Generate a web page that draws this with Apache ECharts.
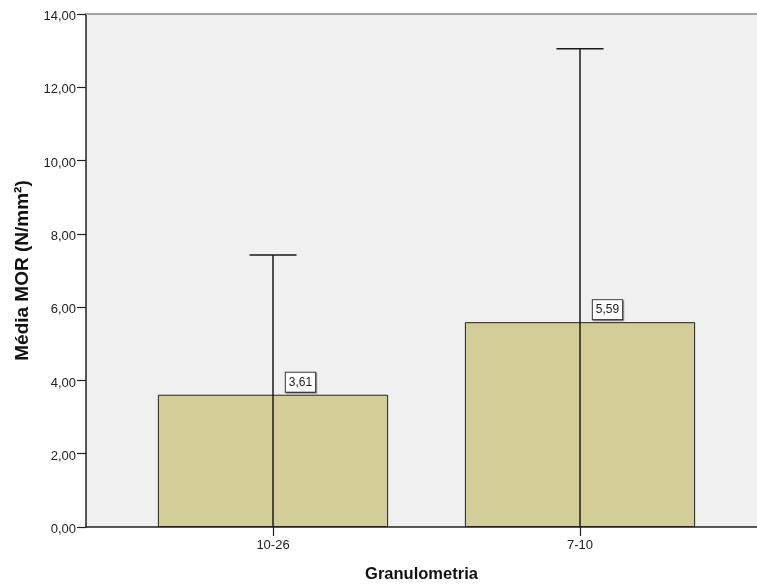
<!DOCTYPE html>
<html>
<head>
<meta charset="utf-8">
<script src="https://cdn.jsdelivr.net/npm/echarts@6/dist/echarts.min.js"></script>
<style>
  html, body { margin: 0; padding: 0; background: #ffffff; }
  #chart { width: 757px; height: 585px; }
</style>
</head>
<body>
<div id="chart"></div>
<script>
// Mean MOR per grain-size class, with error-bar limits
const categories = ['10-26', '7-10'];
const meanMOR = [3.61, 5.59];
const errUpper = [7.42, 13.05];
const errLower = [0, 0];
const yMin = 0, yMax = 14, yStep = 2;

const FONT = '"Liberation Sans", Arial, sans-serif';
const comma = v => v.toFixed(2).replace('.', ',');

const chart = echarts.init(document.getElementById('chart'), null, { renderer: 'canvas' });

const errorData = categories.map((c, i) => [i, errLower[i], errUpper[i]]);

chart.setOption({
  animation: false,
  backgroundColor: '#ffffff',
  grid: [
    // plot frame with the grey panel
    { left: 86, right: 0, top: 14, bottom: 58, outerBoundsMode: 'none', containLabel: false,
      show: true, backgroundColor: '#f0f0f0', borderWidth: 0 },
    // bars
    { left: 119.5, right: 23.5, top: 14, bottom: 58, outerBoundsMode: 'none', containLabel: false }
  ],
  xAxis: [
    {
      gridIndex: 0, type: 'value', min: 0, max: 1, position: 'bottom',
      name: 'Granulometria', nameLocation: 'middle', nameGap: 39,
      nameTextStyle: { fontFamily: FONT, fontSize: 16.5, fontWeight: 'bold', color: '#111' },
      axisLine: { show: true, lineStyle: { color: '#222', width: 1.5 } },
      axisTick: { show: false }, axisLabel: { show: false }, splitLine: { show: false }
    },
    {
      gridIndex: 0, type: 'value', min: 0, max: 1, position: 'top',
      axisLine: { show: true, lineStyle: { color: '#a3a3a3', width: 2 } },
      axisTick: { show: false }, axisLabel: { show: false }, splitLine: { show: false }
    },
    {
      gridIndex: 1, type: 'category', data: categories, position: 'bottom',
      axisLine: { show: false },
      axisTick: { show: true, alignWithLabel: true, length: 9, lineStyle: { color: '#222', width: 1.2 } },
      axisLabel: { margin: 12, fontFamily: FONT, fontSize: 13, color: '#222' },
      splitLine: { show: false }
    }
  ],
  yAxis: [
    {
      gridIndex: 0, type: 'value', min: yMin, max: yMax, interval: yStep,
      name: 'Média MOR (N/mm²)', nameLocation: 'middle', nameGap: 53, nameRotate: 90,
      nameTextStyle: { fontFamily: FONT, fontSize: 19, fontWeight: 'bold', color: '#111' },
      axisLine: { show: true, lineStyle: { color: '#222', width: 1.5 } },
      axisTick: { show: true, length: 9, lineStyle: { color: '#222', width: 1.2 } },
      axisLabel: { margin: 10, fontFamily: FONT, fontSize: 13, color: '#222', formatter: comma,
                   verticalAlign: 'top', lineHeight: 5 },
      splitLine: { show: false }
    },
    {
      gridIndex: 1, type: 'value', min: yMin, max: yMax, interval: yStep, show: false
    }
  ],
  series: [
    {
      type: 'bar',
      xAxisIndex: 2, yAxisIndex: 1,
      data: meanMOR,
      barWidth: '75%',
      itemStyle: { color: '#d3ce98', borderColor: '#222', borderWidth: 1 },
      label: {
        show: true, position: 'top', distance: 3, offset: [27.5, 0],
        formatter: p => comma(p.value),
        fontFamily: FONT, fontSize: 12, color: '#222',
        backgroundColor: '#ffffff', borderColor: '#333', borderWidth: 1,
        padding: [4, 3, 3, 3],
        shadowColor: 'rgba(0,0,0,0.35)', shadowOffsetX: 1, shadowOffsetY: 1, shadowBlur: 1
      },
      z: 2
    },
    {
      type: 'custom',
      xAxisIndex: 2, yAxisIndex: 1,
      data: errorData,
      z: 3,
      renderItem: function (params, api) {
        const x = api.value(0);
        const lo = api.coord([x, api.value(1)]);
        const hi = api.coord([x, api.value(2)]);
        const half = 23.5;
        const style = { stroke: '#1a1a1a', lineWidth: 1.5 };
        return {
          type: 'group',
          children: [
            { type: 'line', shape: { x1: hi[0], y1: hi[1], x2: lo[0], y2: lo[1] }, style: style },
            { type: 'line', shape: { x1: hi[0] - half, y1: hi[1], x2: hi[0] + half, y2: hi[1] }, style: style }
          ]
        };
      }
    }
  ]
});
</script>
</body>
</html>
